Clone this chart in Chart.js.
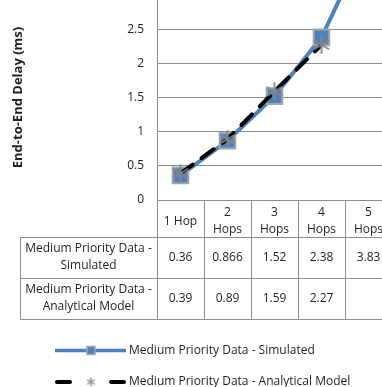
<!DOCTYPE html>
<html>
<head>
<meta charset="utf-8">
<script src="https://cdn.jsdelivr.net/npm/chart.js@4/dist/chart.umd.min.js"></script>
<style>
  html, body { margin: 0; padding: 0; overflow: hidden; background: #fff; width: 382px; height: 387px; }
  #wrap { position: absolute; left: 0; top: -5px; }
</style>
</head>
<body>
<div id="wrap"><canvas id="c" width="392" height="392"></canvas></div>
<script>
// Hop counts shown in the header row of the data table
const hopLabels = [['1 Hop'], ['2', 'Hops'], ['3', 'Hops'], ['4', 'Hops'], ['5', 'Hops']];
// Series names
const simulatedName = 'Medium Priority Data - Simulated';
const analyticalName = 'Medium Priority Data - Analytical Model';
// End-to-end delay values (ms)
const simulated = [0.36, 0.866, 1.52, 2.38, 3.83];
const analytical = [0.39, 0.89, 1.59, 2.27, null];
// Value axis range
const yMin = 0, yMax = 3, yStep = 0.5;

const FONT = '"Open Sans", "Noto Sans", sans-serif';
const FS = 12;
const TEXT = '#1f1f1f';
const GRID = '#8c8c8c';
const BLUE = '#4f81bd';
const MARK_EDGE = '#a6a6a6';

// Asterisk marker used by the analytical series
function asterisk(size, width) {
  const c = document.createElement('canvas');
  c.width = size; c.height = size;
  const g = c.getContext('2d');
  const r = size / 2 - 1;
  g.strokeStyle = '#888888';
  g.lineWidth = width;
  g.lineCap = 'butt';
  g.beginPath();
  [90, 30, 150].forEach(a => {
    const t = a * Math.PI / 180;
    g.moveTo(size / 2 - r * Math.cos(t), size / 2 - r * Math.sin(t));
    g.lineTo(size / 2 + r * Math.cos(t), size / 2 + r * Math.sin(t));
  });
  g.stroke();
  return c;
}
const starBig = asterisk(20, 1.8);
const starSmall = asterisk(11, 1.4);

function splitLabel(name) {
  const i = name.indexOf(' - ');
  return [name.slice(0, i + 2), name.slice(i + 3)];
}

// Data table under the plot plus the legend
const tablePlugin = {
  id: 'dataTable',
  afterDraw(chart) {
    const ctx = chart.ctx;
    const xs = chart.scales.x;
    const area = chart.chartArea;
    const half = (xs.getPixelForValue(1) - xs.getPixelForValue(0)) / 2;
    const px = v => Math.round(v) + 0.5;
    const top = area.bottom;
    const headerBottom = top + 37;
    const rowH = 41;
    const rows = [
      { name: simulatedName, values: simulated },
      { name: analyticalName, values: analytical }
    ];
    const tableBottom = headerBottom + rowH * rows.length;
    const labelLeft = 20;

    ctx.save();
    ctx.strokeStyle = GRID;
    ctx.lineWidth = 1;
    ctx.beginPath();
    // column separators
    for (let i = 0; i <= hopLabels.length; i++) {
      const xv = px(xs.getPixelForValue(0) - half + i * 2 * half);
      ctx.moveTo(xv, top);
      ctx.lineTo(xv, tableBottom);
    }
    // row separators
    for (let r = 0; r <= rows.length; r++) {
      const yv = px(headerBottom + r * rowH);
      ctx.moveTo(labelLeft, yv);
      ctx.lineTo(area.right + 10, yv);
    }
    ctx.moveTo(px(labelLeft), headerBottom);
    ctx.lineTo(px(labelLeft), tableBottom + 0.5);
    ctx.stroke();

    ctx.fillStyle = TEXT;
    ctx.font = FS + 'px ' + FONT;
    ctx.textAlign = 'center';
    ctx.textBaseline = 'middle';
    rows.forEach((row, r) => {
      const cy = headerBottom + r * rowH + rowH / 2;
      const lines = splitLabel(row.name);
      const lx = (labelLeft + area.left) / 2;
      ctx.fillText(lines[0], lx, cy - 8.5);
      ctx.fillText(lines[1], lx, cy + 8.5);
      row.values.forEach((v, i) => {
        if (v === null) return;
        ctx.fillText(String(v), xs.getPixelForValue(i), cy);
      });
    });

    // legend
    const lgX0 = 55, lgX1 = 126, lgMid = 91, lgText = 129;
    const ly1 = tableBottom + 31.5, ly2 = tableBottom + 63;
    ctx.lineCap = 'butt';
    ctx.strokeStyle = BLUE;
    ctx.lineWidth = 3.5;
    ctx.beginPath();
    ctx.moveTo(lgX0, ly1); ctx.lineTo(lgX1, ly1);
    ctx.stroke();
    ctx.fillStyle = BLUE;
    ctx.strokeStyle = MARK_EDGE;
    ctx.lineWidth = 1.5;
    ctx.fillRect(lgMid - 4, ly1 - 4, 8, 8);
    ctx.strokeRect(lgMid - 4, ly1 - 4, 8, 8);

    ctx.strokeStyle = '#000';
    ctx.lineWidth = 4;
    ctx.lineCap = 'round';
    ctx.beginPath();
    ctx.moveTo(lgX0 + 2, ly2); ctx.lineTo(lgX0 + 15, ly2);
    ctx.moveTo(lgX1 - 15, ly2); ctx.lineTo(lgX1 - 2, ly2);
    ctx.stroke();
    ctx.drawImage(starSmall, lgMid - starSmall.width / 2, ly2 - starSmall.height / 2);

    ctx.fillStyle = TEXT;
    ctx.textAlign = 'left';
    ctx.fillText(simulatedName, lgText, ly1);
    ctx.fillText(analyticalName, lgText, ly2);
    ctx.restore();
  }
};

new Chart(document.getElementById('c'), {
  type: 'line',
  data: {
    labels: hopLabels,
    datasets: [
      {
        label: simulatedName,
        data: simulated,
        order: 2,
        borderColor: BLUE,
        borderWidth: 4,
        tension: 0,
        pointStyle: 'rect',
        pointRadius: 11,
        pointBackgroundColor: BLUE,
        pointBorderColor: MARK_EDGE,
        pointBorderWidth: 2
      },
      {
        label: analyticalName,
        data: analytical,
        order: 1,
        borderColor: '#000',
        borderWidth: 4,
        borderDash: [15, 11],
        borderCapStyle: 'round',
        tension: 0,
        pointStyle: starBig,
        pointRadius: 9
      }
    ]
  },
  options: {
    responsive: false,
    animation: false,
    devicePixelRatio: 1,
    layout: { autoPadding: false, padding: 0 },
    plugins: { legend: { display: false }, tooltip: { enabled: false } },
    scales: {
      x: {
        offset: true,
        grid: { display: false, drawTicks: false },
        border: { display: false },
        ticks: {
          color: TEXT,
          font: { family: FONT, size: FS, lineHeight: 1.4 },
          padding: 13,
          maxRotation: 0,
          autoSkip: false,
          crossAlign: 'center'
        },
        afterFit(s) { s.height = 187; s.paddingLeft = 0; s.paddingRight = 0; }
      },
      y: {
        min: yMin,
        max: yMax,
        grid: { color: GRID, lineWidth: 1, drawTicks: false },
        border: { display: true, color: GRID, width: 1 },
        ticks: {
          stepSize: yStep,
          color: TEXT,
          font: { family: FONT, size: FS },
          padding: 13,
          callback: v => (v >= yMax ? null : String(v))
        },
        title: {
          display: true,
          text: 'End-to-End Delay (ms)',
          color: TEXT,
          font: { family: FONT, size: 13, weight: 'bold' },
          padding: { top: 10, bottom: 0 }
        },
        afterFit(s) { s.width = 157; s.paddingTop = 0; s.paddingBottom = 0; }
      }
    }
  },
  plugins: [tablePlugin]
});
</script>
</body>
</html>
